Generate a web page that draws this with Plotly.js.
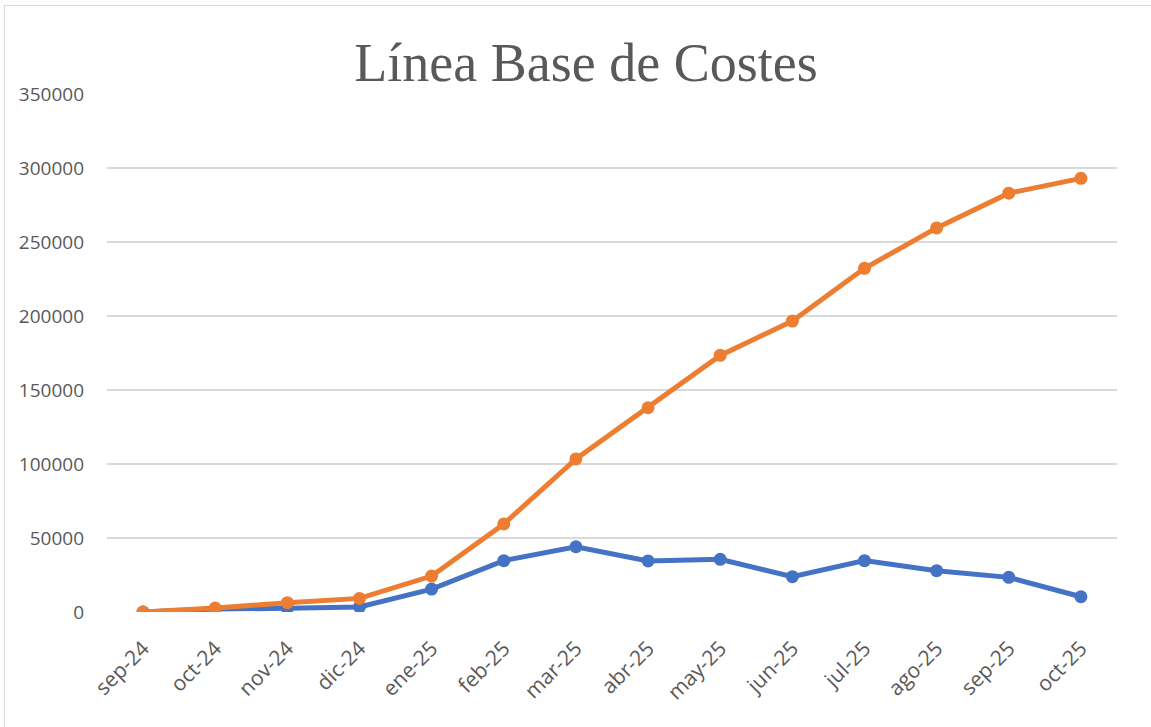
<!DOCTYPE html>
<html>
<head>
<meta charset="utf-8">
<script src="https://cdn.plot.ly/plotly-3.0.1.min.js"></script>
<style>
html,body{margin:0;padding:0;background:#fff;overflow:hidden;}
#frame{position:absolute;left:4px;top:5px;width:1200px;height:800px;border:1.5px solid #d9d9d9;box-sizing:border-box;}
#chart{position:absolute;left:0;top:0;width:1151px;height:727px;}
</style>
</head>
<body>
<div id="frame"></div>
<div id="chart"></div>
<script>
const months = ["sep-24","oct-24","nov-24","dic-24","ene-25","feb-25","mar-25","abr-25","may-25","jun-25","jul-25","ago-25","sep-25","oct-25"];
const monthlyCost = [0, 2000, 2500, 3400, 15500, 34700, 44100, 34500, 35600, 23900, 34700, 27900, 23400, 10300];
const cumulativeCost = [0, 2700, 6300, 9200, 24300, 59500, 103400, 138000, 173400, 196600, 232200, 259500, 283000, 293000];
const yTicks = [0, 50000, 100000, 150000, 200000, 250000, 300000, 350000];

const traces = [
  {x: months, y: monthlyCost, type: 'scatter', mode: 'lines+markers', name: 'Mensual',
   line: {color: '#4472C4', width: 5}, marker: {color: '#4472C4', size: 13}},
  {x: months, y: cumulativeCost, type: 'scatter', mode: 'lines+markers', name: 'Acumulado',
   line: {color: '#ED7D31', width: 5}, marker: {color: '#ED7D31', size: 13}}
];

const layout = {
  width: 1151, height: 727,
  margin: {l: 107, r: 34, t: 94, b: 115},
  paper_bgcolor: 'rgba(0,0,0,0)', plot_bgcolor: 'rgba(0,0,0,0)',
  showlegend: false,
  title: {text: 'Línea Base de Costes', font: {family: 'Liberation Serif', size: 54, color: '#595959'},
          x: 586/1151, xref: 'container', xanchor: 'center', y: 1 - 62/727, yref: 'container', yanchor: 'middle'},
  xaxis: {type: 'category', tickangle: -45, showgrid: false, showline: false, zeroline: false,
          tickfont: {family: 'Open Sans', size: 21, color: '#595959'}, ticks: '', ticklabelstandoff: 19,
          range: [-0.5, 13.5]},
  yaxis: {range: [0, 350000], tickvals: yTicks, ticktext: yTicks.map(String),
          showgrid: true, gridcolor: '#d9d9d9', gridwidth: 1.5, zeroline: false, showline: false,
          tickfont: {family: 'Open Sans', size: 19, color: '#595959'}, ticks: '', ticklabelstandoff: 22}
};

Plotly.newPlot('chart', traces, layout, {displayModeBar: false, staticPlot: true});
</script>
</body>
</html>
